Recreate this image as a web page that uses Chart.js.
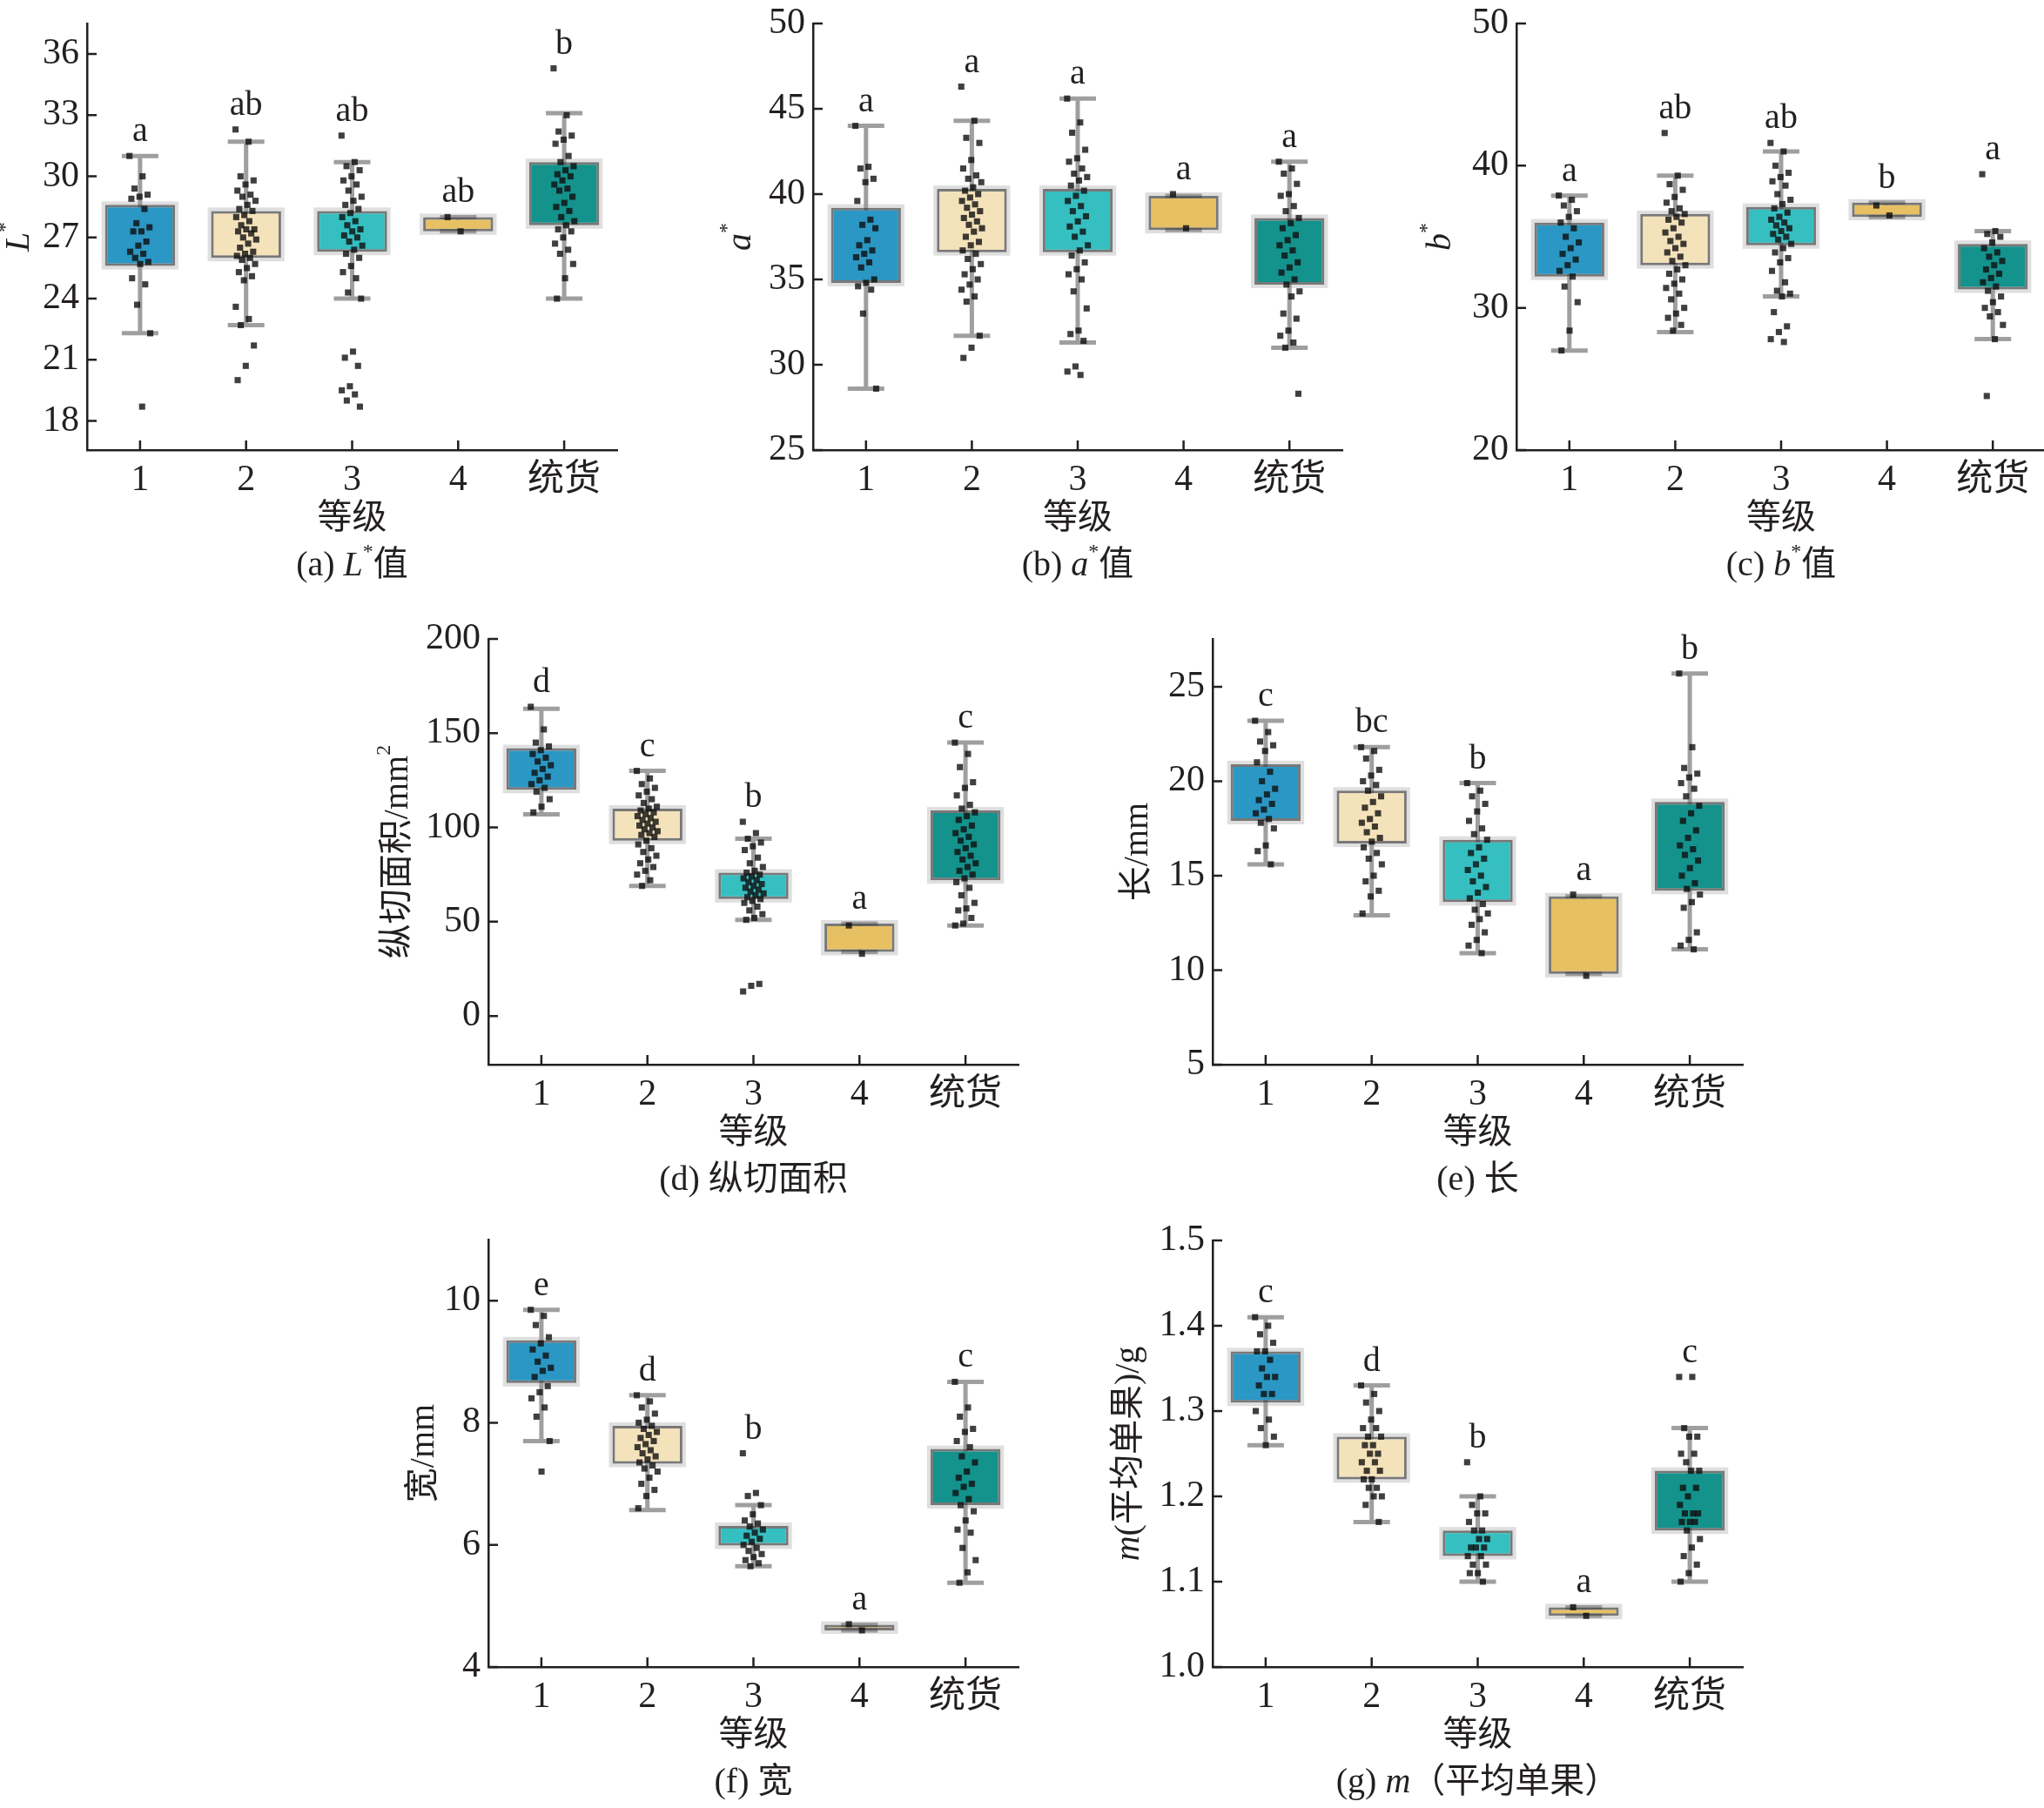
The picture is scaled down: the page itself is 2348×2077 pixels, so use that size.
<!DOCTYPE html>
<html>
<head>
<meta charset="utf-8">
<script src="https://cdn.jsdelivr.net/npm/chart.js@4.4.1/dist/chart.umd.min.js"></script>
<style>
  html, body { margin: 0; padding: 0; background: #fff; overflow: hidden; }
  #wrap { position: relative; width: 2348px; height: 2077px; overflow: hidden; }
  #wrap canvas { position: absolute; }
</style>
</head>
<body>
<div id="wrap"></div>
<script>
const grades = ['1', '2', '3', '4', '统货'];
const boxColors = ['#2b97c4', '#f4e2bb', '#35bfc1', '#e6c062', '#14928c'];

// stats per grade: [whisker low, q1, q3, whisker high]
// (a) L*
const lTicks = [18, 21, 24, 27, 30, 33, 36];
const lStats = [[22.3, 25.6, 28.6, 31.0], [22.7, 26.0, 28.3, 31.7], [24.0, 26.3, 28.3, 30.7], [27.3, 27.3, 28.0, 28.0], [24.0, 27.6, 30.7, 33.1]];
const lLetters = ['a', 'ab', 'ab', 'ab', 'b'];
const lPoints = [
  [31.0, 30.0, 29.4, 29.1, 29.0, 28.9, 28.4, 27.7, 27.5, 27.3, 27.3, 26.8, 26.6, 26.3, 26.2, 26.0, 25.8, 25.7, 25.0, 24.7, 23.7, 22.3, 18.7],
  [32.3, 31.7, 30.0, 29.8, 29.6, 29.3, 29.1, 29.0, 28.8, 28.6, 28.4, 28.3, 28.1, 28.0, 27.8, 27.6, 27.4, 27.4, 27.3, 27.2, 27.0, 26.9, 26.7, 26.5, 26.3, 26.2, 26.1, 26.0, 25.9, 25.7, 25.5, 25.3, 25.1, 24.9, 23.6, 23.0, 22.7, 21.7, 20.7, 20.0],
  [32.0, 30.7, 30.5, 30.3, 30.0, 29.8, 29.6, 29.3, 29.0, 28.8, 28.6, 28.4, 28.2, 28.0, 27.8, 27.6, 27.4, 27.3, 27.1, 27.0, 26.8, 26.6, 26.4, 26.2, 26.0, 25.6, 25.3, 25.0, 24.3, 24.0, 21.4, 21.1, 20.7, 19.7, 19.5, 19.3, 19.0, 18.7],
  [28.0, 27.3],
  [35.3, 33.0, 32.2, 32.0, 31.8, 31.6, 31.0, 30.7, 30.5, 30.3, 30.1, 30.0, 29.8, 29.6, 29.4, 29.3, 29.0, 28.7, 28.5, 28.3, 28.0, 27.8, 27.6, 27.4, 27.3, 27.0, 26.7, 26.4, 26.2, 25.7, 25.0, 24.0]
];

// (b) a*
const aTicks = [25, 30, 35, 40, 45, 50];
const aStats = [[28.6, 34.8, 39.2, 44.0], [31.7, 36.6, 40.3, 44.3], [31.3, 36.6, 40.3, 45.6], [37.9, 37.9, 39.9, 39.9], [31.0, 34.7, 38.6, 41.9]];
const aLetters = ['a', 'a', 'a', 'a', 'a'];
const aPoints = [
  [44.0, 41.6, 41.5, 40.9, 40.7, 39.6, 38.5, 38.2, 38.0, 37.3, 37.0, 36.7, 36.5, 36.3, 36.0, 35.7, 35.0, 34.8, 34.6, 34.4, 33.0, 28.6],
  [46.3, 44.3, 43.3, 43.0, 42.0, 41.5, 41.1, 40.9, 40.7, 40.4, 40.2, 40.0, 39.8, 39.6, 39.4, 39.2, 39.0, 38.8, 38.6, 38.4, 38.2, 38.0, 37.8, 37.5, 37.2, 37.0, 36.7, 36.5, 36.2, 35.9, 35.6, 35.3, 35.0, 34.7, 34.4, 34.0, 33.7, 31.7, 31.0, 30.4],
  [45.6, 44.2, 43.6, 42.6, 42.1, 41.9, 41.5, 41.2, 41.0, 40.8, 40.5, 40.2, 39.9, 39.6, 39.3, 39.0, 38.7, 38.4, 38.1, 37.8, 37.5, 37.0, 36.7, 36.4, 36.0, 35.6, 35.3, 35.0, 34.3, 33.3, 32.0, 31.8, 31.4, 29.9, 29.6, 29.4],
  [40.0, 38.0],
  [41.9, 41.5, 41.2, 40.6, 40.0, 39.9, 39.3, 39.0, 38.6, 38.3, 38.0, 37.6, 37.3, 37.0, 36.7, 36.4, 36.0, 35.7, 35.4, 35.0, 34.7, 34.3, 34.0, 33.0, 32.7, 32.0, 31.7, 31.3, 31.0, 28.3]
];

// (c) b*
const bTicks = [20, 30, 40, 50];
const bStats = [[27.0, 32.2, 36.0, 37.9], [28.3, 33.0, 36.6, 39.3], [30.8, 34.4, 37.1, 41.0], [36.4, 36.4, 37.4, 37.4], [27.8, 31.3, 34.5, 35.4]];
const bLetters = ['a', 'ab', 'ab', 'b', 'a'];
const bPoints = [
  [37.9, 37.6, 37.2, 36.8, 36.4, 36.0, 35.6, 35.0, 34.6, 34.2, 33.8, 33.4, 33.0, 32.6, 32.2, 31.5, 30.4, 28.4, 27.0],
  [42.3, 39.3, 38.7, 38.3, 37.8, 37.4, 37.0, 36.8, 36.6, 36.4, 36.2, 36.0, 35.6, 35.3, 35.0, 34.7, 34.5, 34.2, 33.9, 33.6, 33.3, 33.0, 32.7, 32.4, 32.0, 31.7, 31.4, 31.0, 30.6, 30.0, 29.6, 29.3, 28.8, 28.4],
  [41.6, 41.0, 40.0, 39.5, 39.2, 38.9, 38.6, 38.0, 37.6, 37.3, 37.0, 36.7, 36.4, 36.2, 36.0, 35.8, 35.6, 35.4, 35.2, 35.0, 34.8, 34.5, 34.2, 33.9, 33.5, 33.2, 32.6, 31.8, 31.2, 31.0, 30.8, 29.7, 28.7, 28.3, 27.8, 27.6],
  [37.2, 36.5],
  [39.4, 35.4, 35.2, 35.0, 34.6, 34.2, 33.9, 33.6, 33.3, 33.0, 32.7, 32.4, 32.1, 31.8, 31.5, 31.2, 30.8, 30.4, 30.0, 29.7, 29.4, 28.8, 27.8, 23.8]
];

// (d) 纵切面积
const dTicks = [0, 50, 100, 150, 200];
const dStats = [[107, 120, 142, 163], [69, 93, 110, 130], [51, 62, 76, 94], [34, 34, 49, 49], [48, 72, 109, 145]];
const dLetters = ['d', 'c', 'b', 'a', 'c'];
const dPoints = [
  [164, 152, 145, 143, 141, 139, 137, 135, 133, 131, 129, 127, 125, 123, 121, 119, 115, 111, 108],
  [130, 126, 123, 121, 119, 117, 115, 113, 111, 110, 109, 108, 107, 106, 105, 104, 103, 102, 101, 100, 99, 98, 97, 96, 95, 93, 91, 89, 87, 85, 83, 81, 79, 77, 75, 72, 69],
  [103, 97, 94, 92, 90, 88, 84, 81, 79, 77, 76, 75, 74, 73, 72, 71, 70, 69, 68, 67, 66, 65, 64, 63, 62, 61, 60, 58, 56, 54, 52, 51, 17, 16, 13],
  [48, 33],
  [145, 139, 132, 124, 121, 117, 112, 110, 108, 106, 104, 101, 99, 97, 95, 93, 91, 89, 87, 85, 83, 81, 79, 77, 75, 73, 71, 68, 64, 60, 57, 56, 52, 49, 48]
];

// (e) 长
const eTicks = [5, 10, 15, 20, 25];
const eStats = [[15.6, 17.9, 20.9, 23.2], [12.9, 16.7, 19.5, 21.8], [10.9, 13.6, 16.9, 19.9], [9.8, 9.8, 13.9, 13.9], [11.1, 14.2, 18.9, 25.7]];
const eLetters = ['c', 'bc', 'b', 'a', 'b'];
const ePoints = [
  [23.2, 22.6, 22.1, 21.9, 21.6, 21.0, 20.5, 20.0, 19.6, 19.3, 19.0, 18.8, 18.5, 18.3, 18.0, 17.8, 17.5, 16.6, 16.3, 15.6],
  [21.8, 21.6, 21.2, 20.6, 20.3, 20.0, 19.8, 19.5, 19.2, 18.9, 18.6, 18.3, 18.0, 17.8, 17.6, 17.3, 17.0, 16.8, 16.5, 16.2, 15.9, 15.6, 15.0, 14.7, 14.2, 13.9, 13.0],
  [19.9, 19.5, 19.2, 18.8, 18.4, 17.9, 17.5, 17.2, 16.9, 16.5, 16.2, 15.9, 15.6, 15.3, 15.0, 14.7, 14.4, 14.1, 13.8, 13.5, 13.2, 13.0, 12.7, 12.4, 12.0, 11.6, 11.3, 10.9],
  [14.0, 9.7],
  [25.7, 21.8, 20.7, 20.4, 20.2, 19.9, 19.6, 19.2, 18.7, 18.3, 17.9, 17.4, 17.0, 16.6, 16.4, 16.1, 15.8, 15.4, 15.0, 14.6, 14.3, 14.0, 13.6, 13.3, 12.0, 11.6, 11.3, 11.1]
];

// (f) 宽
const fTicks = [4, 6, 8, 10];
const fStats = [[7.7, 8.65, 9.35, 9.85], [6.57, 7.33, 7.95, 8.45], [5.65, 5.99, 6.31, 6.65], [4.6, 4.6, 4.69, 4.69], [5.38, 6.65, 7.57, 8.67]];
const fLetters = ['e', 'd', 'b', 'a', 'c'];
const fPoints = [
  [9.85, 9.75, 9.6, 9.4, 9.3, 9.2, 9.1, 9.0, 8.9, 8.85, 8.75, 8.6, 8.5, 8.4, 8.25, 8.1, 7.7, 7.2],
  [8.45, 8.35, 8.25, 8.15, 8.05, 8.0, 7.95, 7.9, 7.85, 7.8, 7.75, 7.7, 7.65, 7.6, 7.55, 7.5, 7.45, 7.4, 7.35, 7.3, 7.25, 7.2, 7.1, 7.0, 6.9, 6.8, 6.6],
  [7.5, 6.85, 6.8, 6.65, 6.5, 6.4, 6.35, 6.3, 6.25, 6.2, 6.15, 6.1, 6.05, 6.0, 5.95, 5.9, 5.85, 5.8, 5.75, 5.7, 5.65],
  [4.7, 4.6],
  [8.67, 8.25, 8.1, 7.9, 7.85, 7.7, 7.6, 7.45, 7.35, 7.2, 7.1, 7.0, 6.95, 6.85, 6.75, 6.65, 6.55, 6.4, 6.25, 6.2, 5.95, 5.75, 5.55, 5.38]
];

// (g) m(平均单果)
const gTicks = [1.0, 1.1, 1.2, 1.3, 1.4, 1.5];
const gStats = [[1.26, 1.31, 1.37, 1.41], [1.17, 1.22, 1.27, 1.33], [1.10, 1.13, 1.16, 1.20], [1.06, 1.06, 1.07, 1.07], [1.10, 1.16, 1.23, 1.28]];
const gLetters = ['c', 'd', 'b', 'a', 'c'];
const gPoints = [
  [1.41, 1.40, 1.39, 1.38, 1.37, 1.37, 1.36, 1.35, 1.34, 1.34, 1.33, 1.32, 1.32, 1.30, 1.29, 1.28, 1.27, 1.26],
  [1.33, 1.32, 1.31, 1.30, 1.29, 1.28, 1.28, 1.27, 1.27, 1.26, 1.26, 1.25, 1.25, 1.24, 1.24, 1.23, 1.23, 1.22, 1.22, 1.21, 1.21, 1.20, 1.20, 1.19, 1.17],
  [1.24, 1.20, 1.19, 1.18, 1.18, 1.17, 1.16, 1.16, 1.15, 1.15, 1.14, 1.14, 1.14, 1.13, 1.13, 1.12, 1.12, 1.11, 1.11, 1.10],
  [1.07, 1.06],
  [1.34, 1.34, 1.28, 1.27, 1.27, 1.25, 1.25, 1.24, 1.23, 1.23, 1.21, 1.21, 1.20, 1.19, 1.18, 1.18, 1.18, 1.17, 1.17, 1.17, 1.16, 1.15, 1.14, 1.13, 1.12, 1.11, 1.10]
];

const FONT = "'Liberation Serif', 'Noto Sans CJK SC', serif";
const INK = '#231f20';

// plot area [left, top, right, bottom] in page pixels
const panels = [
  { area: [100, 27, 709, 517], range: [16.57, 37.5], ticks: lTicks, dec: 0, stats: lStats, points: lPoints, letters: lLetters,
    yTitle: [['L', 'i'], ['*', 's']], yDx: -78, caption: [['(a) ', ''], ['L', 'i'], ['*', 's'], ['值', '']] },
  { area: [934, 27, 1542, 517], range: [25, 50], ticks: aTicks, dec: 0, stats: aStats, points: aPoints, letters: aLetters,
    yTitle: [['a', 'i'], ['*', 's']], yDx: -83, caption: [['(b) ', ''], ['a', 'i'], ['*', 's'], ['值', '']] },
  { area: [1742, 27, 2350, 517], range: [20, 50], ticks: bTicks, dec: 0, stats: bStats, points: bPoints, letters: bLetters,
    yTitle: [['b', 'i'], ['*', 's']], yDx: -87, caption: [['(c) ', ''], ['b', 'i'], ['*', 's'], ['值', '']] },
  { area: [561, 734, 1170, 1223], range: [-25.8, 200], ticks: dTicks, dec: 0, stats: dStats, points: dPoints, letters: dLetters,
    yTitle: [['纵切面积/mm', ''], ['2', 's']], yDx: -104, caption: [['(d) 纵切面积', '']] },
  { area: [1393, 734, 2002, 1223], range: [5, 27.53], ticks: eTicks, dec: 0, stats: eStats, points: ePoints, letters: eLetters,
    yTitle: [['长/mm', '']], yDx: -86, caption: [['(e) 长', '']] },
  { area: [561, 1424, 1170, 1915], range: [4, 11], ticks: fTicks, dec: 0, stats: fStats, points: fPoints, letters: fLetters,
    yTitle: [['宽/mm', '']], yDx: -74, caption: [['(f) 宽', '']] },
  { area: [1393, 1425, 2002, 1915], range: [1.0, 1.5], ticks: gTicks, dec: 1, stats: gStats, points: gPoints, letters: gLetters,
    yTitle: [['m', 'i'], ['(平均单果)/g', '']], yDx: -96, caption: [['(g) ', ''], ['m', 'i'], ['（平均单果）', '']] }
];

const PAD_L = 150, PAD_T = 40, PAD_R = 10, PAD_B = 180;

// deterministic horizontal spread for the strip points
const jit = k => (((k * 0.6180339887) % 1) - 0.5) * 0.2;

function drawRich(ctx, parts, cx, cy, size) {
  let w = 0;
  const runs = parts.map(([t, st]) => {
    const f = (st === 'i' ? 'italic ' : '') + (st === 's' ? Math.round(size * 0.6) : size) + 'px ' + FONT;
    ctx.font = f;
    const mw = ctx.measureText(t).width;
    w += mw;
    return { t, st, f, mw };
  });
  let x = cx - w / 2;
  ctx.textAlign = 'left';
  ctx.textBaseline = 'middle';
  runs.forEach(r => {
    ctx.font = r.f;
    ctx.fillText(r.t, x, r.st === 's' ? cy - size * 0.38 : cy);
    x += r.mw;
  });
}

const boxPlot = {
  id: 'boxPlot',
  beforeDatasetsDraw(chart) {
    const p = chart.config.options.panel;
    const ctx = chart.ctx, x = chart.scales.x, y = chart.scales.y;
    ctx.save();
    // whiskers and caps
    ctx.strokeStyle = 'rgba(135,135,135,0.8)';
    ctx.lineWidth = 5;
    p.stats.forEach((s, i) => {
      const cx = x.getPixelForTick(i);
      const lo = y.getPixelForValue(s[0]), hi = y.getPixelForValue(s[3]);
      ctx.beginPath();
      ctx.moveTo(cx, lo); ctx.lineTo(cx, hi);
      ctx.moveTo(cx - 21, lo); ctx.lineTo(cx + 21, lo);
      ctx.moveTo(cx - 21, hi); ctx.lineTo(cx + 21, hi);
      ctx.stroke();
    });
    // soft grey halo around each box
    ctx.strokeStyle = 'rgba(150,150,150,0.3)';
    ctx.lineWidth = 8;
    chart.getDatasetMeta(0).data.forEach(bar => {
      const { x: bx, y: by, base, width } = bar.getProps(['x', 'y', 'base', 'width']);
      ctx.strokeRect(bx - width / 2, Math.min(by, base), width, Math.abs(base - by));
    });
    ctx.restore();
  },
  afterDatasetsDraw(chart) {
    const p = chart.config.options.panel;
    const ctx = chart.ctx, x = chart.scales.x, y = chart.scales.y;
    const a = chart.chartArea;
    ctx.save();
    ctx.fillStyle = INK;
    // group letters
    ctx.font = '40px ' + FONT;
    ctx.textAlign = 'center';
    ctx.textBaseline = 'alphabetic';
    p.letters.forEach((t, i) => {
      const top = Math.max(p.stats[i][3], ...p.points[i]);
      ctx.fillText(t, x.getPixelForTick(i), y.getPixelForValue(top) - 17);
    });
    // inward tick marks
    ctx.strokeStyle = INK;
    ctx.lineWidth = 2.5;
    ctx.beginPath();
    p.ticks.forEach(v => {
      const py = y.getPixelForValue(v);
      ctx.moveTo(a.left, py); ctx.lineTo(a.left + 11, py);
    });
    grades.forEach((g, i) => {
      const px = x.getPixelForTick(i);
      ctx.moveTo(px, a.bottom); ctx.lineTo(px, a.bottom - 11);
    });
    ctx.stroke();
    // y title
    ctx.save();
    ctx.translate(a.left + p.yDx, (a.top + a.bottom) / 2);
    ctx.rotate(-Math.PI / 2);
    drawRich(ctx, p.yTitle, 0, 0, 40);
    ctx.restore();
    // x title and caption
    const mid = (a.left + a.right) / 2;
    drawRich(ctx, [['等级', '']], mid, a.bottom + 79, 40);
    drawRich(ctx, p.caption, mid, a.bottom + 133, 40);
    ctx.restore();
  }
};

const wrap = document.getElementById('wrap');

panels.forEach(p => {
  const [l, t, r, b] = p.area;
  const cv = document.createElement('canvas');
  cv.width = (r - l) + PAD_L + PAD_R;
  cv.height = (b - t) + PAD_T + PAD_B;
  cv.style.left = (l - PAD_L) + 'px';
  cv.style.top = (t - PAD_T) + 'px';
  wrap.appendChild(cv);

  const strip = p.points.flatMap((vals, i) => vals.map((v, k) => ({ x: i + jit(k), y: v })));

  new Chart(cv.getContext('2d'), {
    data: {
      labels: grades,
      datasets: [
        {
          type: 'bar',
          data: p.stats.map(s => [s[1], s[2]]),
          backgroundColor: boxColors,
          borderColor: 'rgba(50,50,50,0.6)',
          borderWidth: 3,
          borderSkipped: false,
          grouped: false,
          barPercentage: 0.66,
          categoryPercentage: 1,
          order: 2
        },
        {
          type: 'scatter',
          data: strip,
          xAxisID: 'xj',
          pointStyle: 'rect',
          pointRadius: 5,
          pointBorderWidth: 0,
          backgroundColor: 'rgba(15,15,15,0.8)',
          order: 1
        }
      ]
    },
    options: {
      panel: p,
      responsive: false,
      animation: false,
      devicePixelRatio: 1,
      layout: { padding: { left: 0, top: PAD_T, right: PAD_R, bottom: 0 } },
      plugins: { legend: { display: false }, tooltip: { enabled: false } },
      scales: {
        x: {
          type: 'category',
          offset: true,
          grid: { display: false },
          border: { display: true, color: INK, width: 2.5 },
          ticks: { color: INK, font: { family: FONT, size: 42 }, padding: 2, maxRotation: 0 },
          afterFit: s => { s.height = PAD_B; }
        },
        xj: { type: 'linear', display: false, min: -0.5, max: 4.5 },
        y: {
          type: 'linear',
          min: p.range[0],
          max: p.range[1],
          grid: { display: false },
          border: { display: true, color: INK, width: 2.5 },
          ticks: { color: INK, font: { family: FONT, size: 42 }, padding: 1, callback: v => v.toFixed(p.dec) },
          afterBuildTicks: s => { s.ticks = p.ticks.map(v => ({ value: v })); },
          afterFit: s => { s.width = PAD_L; }
        }
      }
    },
    plugins: [boxPlot]
  });
});
</script>
</body>
</html>
